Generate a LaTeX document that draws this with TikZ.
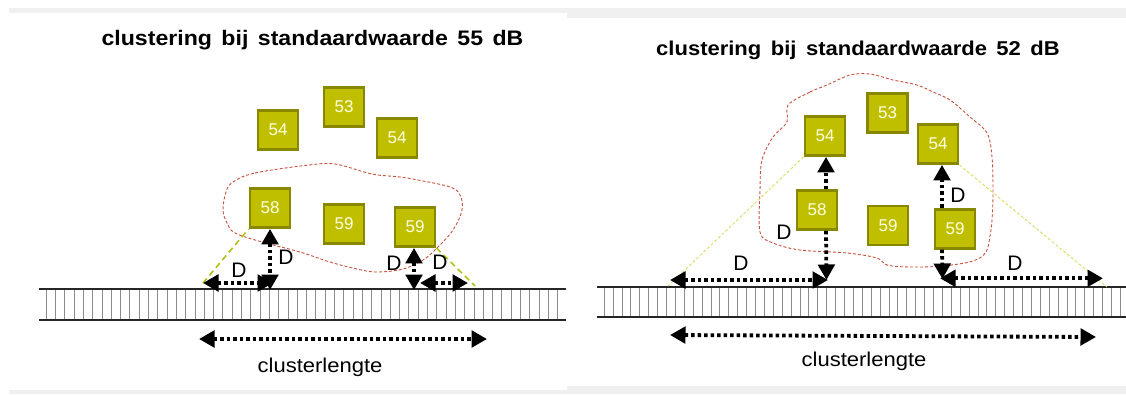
\documentclass[tikz,border=0pt]{standalone}
\usepackage{fontspec}
\setmainfont{Liberation Sans}
\newfontfamily\widefont[FakeStretch=1.1]{Liberation Sans}
\usetikzlibrary{arrows.meta}
\definecolor{boxfill}{RGB}{191,191,0}
\definecolor{boxline}{RGB}{135,135,0}
\definecolor{boxtext}{RGB}{255,255,225}
\definecolor{cloudred}{RGB}{200,80,60}
\definecolor{guide}{RGB}{180,190,20}
\definecolor{guidelight}{RGB}{215,215,90}
\definecolor{bandgray}{RGB}{240,240,240}
\newcommand\wgap{\hspace{9.5pt}}
\begin{document}
\begin{tikzpicture}[x=1pt,y=-1pt,
 recbox/.style={draw=boxline, fill=boxfill, line width=2.8pt, minimum width=40pt, minimum height=39pt, inner sep=0pt, text=boxtext, font=\fontsize{17}{17}\selectfont},
 tipA/.tip={Triangle[length=15.5pt 0 0,width=16.5pt 0 0]},
 darrow/.style={line width=3.8pt, dash pattern=on 3.5pt off 3pt, -tipA},
 ddarrow/.style={line width=3.8pt, dash pattern=on 3.5pt off 3pt, tipA-tipA},
 dlabel/.style={font=\fontsize{21}{21}\selectfont, inner sep=0pt},
 cloud/.style={draw=cloudred, line width=0.9pt, dash pattern=on 3pt off 2pt},
 guideA/.style={draw=guide, line width=1.6pt, dash pattern=on 6pt off 4pt},
 guideB/.style={draw=guidelight, line width=0.8pt, dash pattern=on 3pt off 2pt},
 roadline/.style={line width=1.4pt, draw=black!85},
 tickline/.style={line width=0.5pt, draw=black!45},
 ttl/.style={font=\widefont\bfseries\fontsize{21}{21}\selectfont, inner sep=0pt, anchor=base},
 lbl/.style={font=\widefont\fontsize{20}{20}\selectfont, inner sep=0pt, anchor=base}]
\useasboundingbox (0,0) rectangle (1126,394);
% background bands
\fill[bandgray] (9,8) rectangle (567,13);
\fill[bandgray] (9,390) rectangle (567,394);
\fill[bandgray] (567,8) rectangle (1126,18);
\fill[bandgray] (567,386) rectangle (1126,394);

% ================= LEFT PANEL =================
\node[ttl] (t1) at (312.5,45.7) {clustering\wgap bij\wgap standaardwaarde\wgap 55\wgap dB};
% road
\foreach \i in {0,...,55} \draw[tickline] ({46+9.3*\i},289) -- ({46+9.3*\i},320);
\coordinate (lr1) at (39,289); \coordinate (lr2) at (566,289);
\coordinate (lr3) at (39,320); \coordinate (lr4) at (566,320);
\draw[roadline] (lr1) -- (lr2);
\draw[roadline] (lr3) -- (lr4);
% cloud
\draw[cloud] plot[smooth cycle, tension=0.6] coordinates {(233,182) (255,173) (309,165) (335,164) (364,172) (378,175) (400,177) (418,180) (450,187) (460,195) (462,210) (453,230) (437,248) (423,260) (403,269) (377,272) (357,269) (330,262) (300,252) (262,242) (235,233) (227,223) (223,210) (226,192)};
% boxes
\node[recbox] (l54a) at (278,130) {54};
\node[recbox] (l53) at (344,107) {53};
\node[recbox] (l54b) at (397,138) {54};
\node[recbox] (l58) at (270,208) {58};
\node[recbox] (l59a) at (344,224) {59};
\node[recbox] (l59b) at (415,227) {59};
% guide lines
\coordinate (lgA) at (203,283);
\coordinate (lgB) at (475,286);
\draw[guideA] (lgA) -- (l58.south west);
\draw[guideA] (l59b.south east) -- (lgB);
% arrows
\coordinate (lv1) at (270,290);
\coordinate (lh1) at (203,283); \coordinate (lh2) at (273,283);
\coordinate (lv2) at (414,290);
\coordinate (lh3) at (420,283); \coordinate (lh4) at (468,283);
\draw[ddarrow] (l58.south) -- (lv1);
\draw[ddarrow] (lh1) -- (lh2);
\draw[ddarrow] (l59b.south -| lv2) -- (lv2);
\draw[ddarrow] (lh3) -- (lh4);
\node[dlabel] (ld1) at (239,270) {D};
\node[dlabel] (ld2) at (286,257) {D};
\node[dlabel] (ld3) at (394,263) {D};
\node[dlabel] (ld4) at (440,262) {D};
% clusterlengte
\coordinate (lc1) at (199,339); \coordinate (lc2) at (487,339);
\draw[ddarrow] (lc1) -- (lc2);
\node[lbl] (lcl) at (320,372.5) {clusterlengte};

% ================= RIGHT PANEL =================
\node[ttl, font=\widefont\bfseries\fontsize{20}{20}\selectfont] (t2) at (858,55) {clustering\wgap bij\wgap standaardwaarde\wgap 52\wgap dB};
% road
\foreach \i in {0,...,58} \draw[tickline] ({604+8.9*\i},287) -- ({604+8.9*\i},317);
\coordinate (rr1) at (597,287); \coordinate (rr2) at (1126,287);
\coordinate (rr3) at (597,317); \coordinate (rr4) at (1126,317);
\draw[roadline] (rr1) -- (rr2);
\draw[roadline] (rr3) -- (rr4);
% cloud
\draw[cloud] plot[smooth cycle, tension=0.55] coordinates {(788,105) (810,92) (827,85) (850,75) (870,74) (893,80) (917,85) (933,92) (950,100) (970,117) (987,133) (992,157) (993,193) (992,220) (990,236) (986,252) (973,261) (943,266) (910,267) (887,265) (877,258) (847,253) (800,250) (773,243) (760,232) (760,190) (762,160) (773,137) (787,122)};
% boxes
\node[recbox] (r54a) at (825,136) {54};
\node[recbox] (r53) at (887.5,113) {53};
\node[recbox] (r54b) at (938,144) {54};
\node[recbox] (r58) at (817,210) {58};
\node[recbox] (r59a) at (888,225.5) {59};
\node[recbox] (r59b) at (955,228.7) {59};
% guide lines
\coordinate (rgA) at (668,286);
\coordinate (rgB) at (1107,287);
\draw[guideB] (r54a.south west) -- (rgA);
\draw[guideB] (r54b.south east) -- (rgB);
% arrows
\coordinate (rxa) at (826,0);
\coordinate (rxb) at (942,0);
\coordinate (rv1) at (826.5,280);
\coordinate (rh1) at (670,280); \coordinate (rh2) at (828,280);
\coordinate (rv2) at (942.5,279);
\coordinate (rh3) at (940,278.3); \coordinate (rh4) at (1103,278.3);
\draw[darrow] (rxa |- r58.north) -- (rxa |- r54a.south);
\draw[darrow] (rxa |- r58.south) -- (rv1);
\draw[ddarrow] (rh1) -- (rh2);
\draw[darrow] (rxb |- r59b.north) -- (rxb |- r54b.south);
\draw[darrow] (rxb |- r59b.south) -- (rv2);
\draw[ddarrow] (rh3) -- (rh4);
\node[dlabel] (rd1) at (741,263) {D};
\node[dlabel] (rd2) at (784,232) {D};
\node[dlabel] (rd3) at (958,195) {D};
\node[dlabel] (rd4) at (1015,263) {D};
% clusterlengte
\coordinate (rc1) at (670,335); \coordinate (rc2) at (1096,337);
\draw[ddarrow] (rc1) -- (rc2);
\node[lbl] (rcl) at (864,366) {clusterlengte};
\end{tikzpicture}
\end{document}
